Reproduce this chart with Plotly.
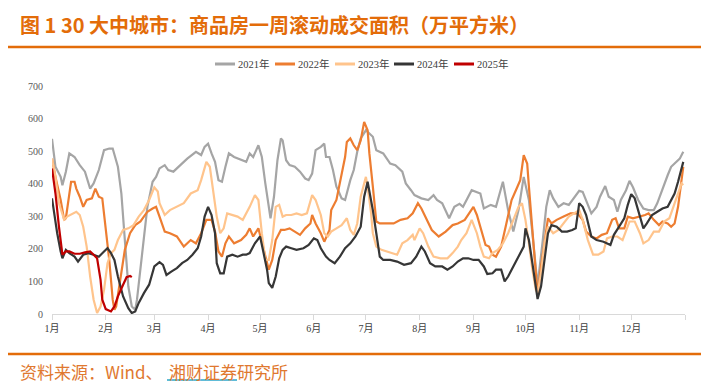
import plotly.graph_objects as go
import pandas as pd

# ---------------- data (day of year offsets from Jan 1, weekly rolling area, 万平方米) ----------------
day_2021 = [0,2,5,6,8,10,13,16,19,22,24,27,30,33,35,37,38,40,42,44,46,48,49,52,55,58,60,62,65,67,70,74,78,83,86,88,90,92,94,96,98,100,102,105,109,112,114,116,119,121,123,125,126,128,130,132,133,135,137,140,143,146,148,150,152,155,157,158,160,162,164,165,167,169,172,174,176,178,181,183,185,187,191,195,198,202,204,207,209,213,217,220,222,225,227,229,232,235,237,242,247,249,253,256,260,263,266,269,272,275,277,279,280,283,285,287,289,292,295,298,301,304,306,308,311,314,316,319,321,324,326,328,331,333,335,338,341,344,347,349,352,355,357,360,362,364]
val_2021 = [538,452,421,395,437,493,482,457,437,385,401,442,503,508,508,467,452,370,227,85,23,13,44,197,329,406,421,447,457,442,437,457,477,498,488,513,523,493,467,411,406,452,493,482,472,467,493,482,518,482,401,329,294,360,472,539,533,472,457,452,437,416,411,431,503,513,523,482,482,442,391,380,355,350,411,442,498,539,564,554,544,503,493,462,457,437,401,380,365,355,350,365,350,340,319,294,329,338,329,380,370,324,335,329,406,319,253,319,421,350,248,130,88,227,329,380,355,329,340,335,355,378,375,350,309,329,360,393,360,350,314,350,380,409,389,350,324,319,319,340,386,426,452,467,477,498]

day_2022 = [0,2,5,7,8,10,11,13,14,16,18,20,23,25,27,29,31,33,35,36,37,39,42,45,48,51,55,58,60,62,65,68,72,76,80,83,86,89,92,94,96,98,100,102,105,109,112,114,116,119,122,124,125,127,129,132,134,137,140,143,146,149,150,152,155,157,160,161,164,166,169,170,172,174,176,178,180,182,183,185,187,189,193,197,201,205,208,211,213,216,219,223,227,231,234,238,243,245,248,250,252,254,256,259,262,265,268,270,272,274,275,277,279,280,282,284,286,288,291,295,299,303,306,308,311,314,317,320,323,325,327,330,332,335,339,342,344,347,350,352,355,357,359,361,363,364]
val_2022 = [477,421,350,289,294,360,406,406,385,360,329,350,355,385,360,355,268,166,44,13,23,95,197,248,273,284,314,324,329,299,253,248,238,207,227,217,248,289,289,253,192,176,217,238,217,227,243,263,238,263,197,156,136,166,227,258,258,263,253,243,263,278,304,278,248,222,258,319,350,401,482,528,539,518,503,533,590,564,493,391,284,278,278,278,289,294,309,340,324,289,258,238,253,273,278,289,329,304,248,212,207,182,176,207,278,350,386,411,488,462,391,248,105,58,146,227,294,278,289,299,309,309,289,253,238,232,243,248,289,294,263,263,299,294,299,304,309,289,273,284,278,268,278,329,411,452]

day_2023 = [0,2,4,7,9,12,14,16,18,20,22,24,26,28,30,32,34,36,38,41,44,47,50,53,56,59,61,62,65,68,72,76,80,84,86,89,91,93,95,97,99,101,104,107,110,112,114,117,119,121,123,125,127,129,131,133,135,138,141,144,147,150,152,155,157,159,161,164,167,170,172,174,176,178,181,182,184,185,187,190,193,196,199,202,205,208,209,212,214,217,220,224,228,231,234,236,239,242,245,247,249,252,254,257,260,263,266,269,271,273,275,277,279,280,282,284,286,289,292,295,298,301,304,306,309,312,315,318,320,323,326,329,331,333,336,339,341,344,347,350,353,356,358,361,363,364]
val_2023 = [477,420,340,290,300,309,314,304,268,207,115,44,3,23,74,156,187,197,227,258,263,273,299,319,350,389,376,340,304,319,329,340,370,380,411,467,452,380,299,248,263,309,304,299,289,309,329,365,350,248,166,166,227,329,335,299,304,304,309,304,309,365,350,304,248,238,253,263,273,294,258,243,278,360,421,391,309,248,207,197,192,187,182,217,227,243,227,263,248,207,176,171,171,187,207,227,248,289,248,207,176,171,187,197,217,248,289,329,340,289,217,136,74,64,125,217,268,248,258,278,299,309,319,289,227,182,182,192,232,238,238,227,253,284,284,248,217,227,253,253,284,294,324,370,401,396]

day_2024 = [0,1,3,5,6,8,10,13,15,18,21,24,27,30,32,34,36,38,41,44,46,48,50,53,56,59,62,64,66,69,72,75,78,81,84,86,88,90,92,94,95,97,99,101,104,107,110,112,114,117,120,122,124,125,127,129,131,133,135,138,141,145,148,151,153,155,158,160,163,166,169,172,175,178,180,182,183,185,187,189,191,195,199,203,207,210,213,215,218,221,225,228,231,234,237,240,243,246,249,251,254,256,259,261,263,266,269,272,273,275,277,279,280,282,284,286,288,291,294,297,300,302,304,306,308,311,314,318,322,324,327,330,332,334,336,338,341,343,346,349,352,355,357,359,361,363,364]
val_2024 = [355,319,248,192,171,197,187,176,161,182,187,182,176,192,202,187,166,115,54,18,3,8,34,64,90,146,159,151,120,131,141,156,166,182,202,238,299,329,304,248,156,125,125,176,182,176,182,182,187,217,238,187,136,95,80,115,171,197,207,202,197,202,212,232,227,202,176,166,156,176,202,217,238,268,360,406,380,319,248,176,166,166,161,151,156,176,207,192,156,146,146,136,146,161,171,171,166,166,146,123,125,136,136,100,115,146,176,207,263,227,156,85,46,85,176,248,273,268,253,253,258,263,340,329,304,238,227,222,212,243,268,294,335,368,355,319,263,278,304,314,324,329,350,370,406,447,467]

day_2025 = [0,2,4,6,8,10,13,16,19,22,24,26,28,29,31,34,36,38,41,43,45,46]
val_2025 = [447,370,268,182,192,192,185,185,189,192,182,171,105,44,15,8,23,54,90,113,117,113]

month_labels = ["1月","2月","3月","4月","5月","6月","7月","8月","9月","10月","11月","12月"]
series_names = ["2021年","2022年","2023年","2024年","2025年"]
series_colors = ["#A5A5A5","#ED7D31","#FFC48C","#363636","#C00000"]

title_text = "图 1 30 大中城市：商品房一周滚动成交面积（万平方米）"
source_part1 = "资料来源：Wind、"
source_part2 = "湘财证券研究所"

base = pd.Timestamp("2021-01-01")
def to_dates(days):
    return base + pd.to_timedelta(days, unit="D")

days_all = [day_2021, day_2022, day_2023, day_2024, day_2025]
vals_all = [val_2021, val_2022, val_2023, val_2024, val_2025]

fig = go.Figure()
for name, color, d, v in zip(series_names, series_colors, days_all, vals_all):
    fig.add_trace(go.Scatter(x=to_dates(d), y=v, mode="lines", name=name,
                             line=dict(color=color, width=2.2), showlegend=False))

tickvals = [pd.Timestamp(2021, m, 1) for m in range(1, 13)] + [pd.Timestamp(2022, 1, 1)]
ticktext = month_labels + [""]

serif = "Liberation Serif, Times New Roman, Noto Sans CJK SC, serif"
W, H = 709, 390
OFF = 8  # page body margin
ml, mr, mt, mb = 44, 32, 78, 84
pw, ph = W - ml - mr, H - mt - mb

def px_x(x):   # page pixel -> paper fraction
    return (x - OFF - ml) / pw

def px_y(y):
    return (H - mb - (y - OFF)) / ph

shapes = [
    dict(type="line", xref="paper", yref="paper", x0=px_x(5), x1=px_x(702),
         y0=px_y(47), y1=px_y(47), line=dict(color="#E36C09", width=2.5)),
    dict(type="line", xref="paper", yref="paper", x0=px_x(5), x1=px_x(702),
         y0=px_y(354), y1=px_y(354), line=dict(color="#E36C09", width=2.5)),
    dict(type="line", xref="paper", yref="paper", x0=px_x(167), x1=px_x(237),
         y0=px_y(380), y1=px_y(380), line=dict(color="#2BA6CB", width=1.5)),
]
annotations = [
    dict(text=title_text, xref="paper", yref="paper", x=px_x(18), y=px_y(24),
         xanchor="left", yanchor="middle", showarrow=False,
         font=dict(family="Noto Sans CJK SC", size=20, color="#E36C09", weight="bold")),
    dict(text=source_part1, xref="paper", yref="paper", x=px_x(18), y=px_y(371),
         xanchor="left", yanchor="middle", showarrow=False,
         font=dict(family="Noto Sans CJK SC", size=17, color="#E0782F")),
    dict(text=source_part2, xref="paper", yref="paper", x=px_x(167), y=px_y(371),
         xanchor="left", yanchor="middle", showarrow=False,
         font=dict(family="Noto Sans CJK SC", size=17, color="#E0782F")),
]

# legend drawn as key samples + labels above the plot
legend_left = [215, 275, 335, 394, 454]
for name, color, lx in zip(series_names, series_colors, legend_left):
    shapes.append(dict(type="line", xref="paper", yref="paper", x0=px_x(lx), x1=px_x(lx + 20),
                       y0=px_y(64), y1=px_y(64), line=dict(color=color, width=3)))
    annotations.append(dict(text=name, xref="paper", yref="paper", x=px_x(lx + 21), y=px_y(64),
                            xanchor="left", yanchor="middle", showarrow=False,
                            font=dict(family=serif, size=10.5, color="#404040")))

fig.update_layout(
    width=W, height=H,
    margin=dict(l=ml, r=mr, t=mt, b=mb),
    paper_bgcolor="white", plot_bgcolor="white",
    showlegend=False,
    xaxis=dict(type="date", range=[pd.Timestamp(2021, 1, 1), pd.Timestamp(2022, 1, 1)],
               tickmode="array", tickvals=tickvals, ticktext=ticktext,
               showgrid=False, zeroline=False, showline=True, linecolor="#D9D9D9", linewidth=1,
               ticks="outside", ticklen=5, tickcolor="#D9D9D9",
               tickfont=dict(family=serif, size=10, color="#404040")),
    yaxis=dict(range=[0, 700], dtick=100, tick0=0, showgrid=False, zeroline=False,
               showline=False, ticks="", ticklabelstandoff=8,
               tickfont=dict(family=serif, size=10, color="#595959")),
    shapes=shapes,
    annotations=annotations,
)

fig.write_html("out.html")
